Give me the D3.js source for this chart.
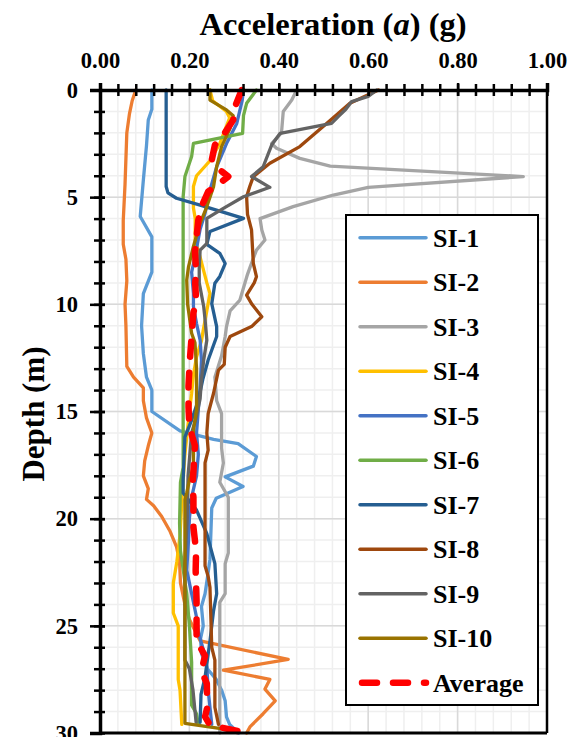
<!DOCTYPE html>
<html>
<head>
<meta charset="utf-8">
<script src="https://cdn.jsdelivr.net/npm/d3@7"></script>
<style>
  html, body { margin: 0; padding: 0; background: #fff; }
  svg text { font-family: "Liberation Serif", "Times New Roman", serif; font-weight: bold; fill: #000; }
</style>
</head>
<body>
<svg id="chart" width="576" height="737"></svg>
<script>
// [depth (m), acceleration (g)]
var si1 = [[0,0.116],[0.9,0.116],[1.4,0.108],[2.6,0.104],[4.2,0.097],[5.9,0.090],[6.85,0.116],[8.5,0.116],[9.5,0.097],[11,0.093],[12.3,0.097],[13.4,0.104],[14,0.116],[15,0.116],[15.9,0.179],[16.3,0.254],[16.5,0.309],[17.1,0.35],[17.55,0.343],[18.05,0.28],[18.5,0.32],[19.05,0.26],[19.5,0.25],[21.9,0.246],[22.8,0.24],[23.5,0.235],[24.1,0.227],[25,0.231],[25.6,0.225],[26.3,0.227],[27,0.24],[27.5,0.26],[28,0.272],[28.5,0.28],[29.25,0.283],[29.6,0.29],[30,0.31]];
var si2 = [[0,0.08],[0.5,0.072],[1.1,0.066],[2,0.06],[4.4,0.056],[6.1,0.052],[7.2,0.052],[7.9,0.058],[8.9,0.06],[10,0.056],[11,0.058],[12.9,0.06],[13.4,0.075],[13.9,0.097],[14.5,0.097],[15.3,0.104],[16,0.116],[16.6,0.108],[17.3,0.1],[18,0.097],[18.6,0.108],[19.1,0.104],[19.4,0.12],[19.9,0.138],[20.6,0.157],[21.3,0.171],[22,0.178],[23,0.18],[24,0.19],[24.7,0.2],[25.7,0.224],[26.57,0.421],[27.07,0.276],[27.5,0.38],[27.95,0.369],[28.5,0.392],[29.1,0.365],[29.7,0.336],[30,0.328]];
var si3 = [[0,0.44],[0.47,0.429],[1,0.41],[2,0.406],[2.5,0.384],[2.72,0.395],[3.19,0.447],[3.55,0.515],[4.04,0.947],[4.54,0.6],[4.9,0.522],[5.44,0.432],[6,0.358],[6.53,0.362],[7,0.369],[7.47,0.35],[8.25,0.336],[8.6,0.33],[9.8,0.313],[10.3,0.291],[11.04,0.283],[11.5,0.28],[12.4,0.272],[13.4,0.257],[14.5,0.261],[15.1,0.272],[16.7,0.272],[17.4,0.276],[18.3,0.268],[19,0.287],[21.6,0.287],[22.1,0.28],[23.5,0.28],[23.9,0.268],[30,0.268]];
var si4 = [[0,0.246],[0.5,0.252],[1,0.283],[1.3,0.29],[2.5,0.268],[3.3,0.246],[4,0.216],[4.5,0.209],[5.5,0.209],[6,0.213],[7,0.213],[7.8,0.224],[9,0.239],[9.5,0.246],[10.3,0.239],[11.2,0.231],[11.7,0.227],[12.45,0.216],[13.3,0.209],[14.15,0.205],[15,0.2],[16,0.195],[17,0.19],[18.8,0.184],[20.8,0.179],[22,0.172],[23,0.164],[24.4,0.164],[25,0.175],[27.5,0.175],[28,0.179],[29.6,0.183]];
var si5 = [[0,0.321],[0.5,0.318],[1.56,0.306],[2.5,0.283],[3.58,0.261],[4.67,0.246],[5.75,0.235],[6.5,0.224],[7.78,0.2125],[8.5,0.205],[9.5,0.209],[10.1,0.209],[10.9,0.216],[11.67,0.224],[12.6,0.227],[13.8,0.224],[14.9,0.22],[16,0.216],[17,0.22],[18,0.216],[19,0.205],[20,0.2],[21,0.198],[22.4,0.194],[23.5,0.205],[24.6,0.216],[25.3,0.22],[26.1,0.231],[26.9,0.239],[28,0.242],[29.6,0.25]];
var si6 = [[0,0.35],[0.62,0.328],[1.2,0.321],[2.02,0.319],[2.49,0.209],[3.1,0.205],[4.04,0.19],[4.98,0.186],[7.3,0.186],[10,0.186],[14,0.186],[17.6,0.186],[18.3,0.18],[20.2,0.178],[21.5,0.18],[23.5,0.194],[25,0.2],[26.7,0.205],[28.7,0.205],[29.1,0.216],[29.6,0.22]];
var si7 = [[0,0.148],[4.5,0.148],[4.8,0.152],[5.05,0.171],[5.37,0.224],[5.99,0.321],[6.6,0.246],[7.2,0.239],[7.62,0.268],[8.1,0.28],[8.7,0.268],[9.02,0.257],[9.97,0.25],[11.04,0.261],[11.5,0.261],[12.6,0.242],[13.5,0.23],[14.47,0.22],[15.4,0.205],[16.2,0.19],[18.2,0.186],[18.8,0.186],[19.6,0.216],[20.7,0.239],[22.1,0.257],[23.5,0.261],[24.3,0.254],[25.7,0.246],[27.4,0.235],[28.2,0.226],[29.5,0.224]];
var si8 = [[0,0.623],[0.62,0.559],[1.56,0.507],[2.64,0.447],[3.42,0.38],[4.04,0.343],[4.5,0.335],[4.98,0.328],[5.8,0.33],[6.53,0.339],[8.09,0.343],[8.71,0.35],[9,0.345],[9.57,0.328],[10,0.34],[10.58,0.362],[11.04,0.339],[11.5,0.291],[12,0.28],[12.8,0.278],[13.07,0.265],[14.15,0.254],[15.1,0.242],[16,0.239],[16.8,0.242],[17.4,0.235],[17.9,0.235],[22.2,0.235],[22.7,0.242],[23.2,0.246],[26,0.25],[26.6,0.257],[28.8,0.257],[29.6,0.265]];
var si9 = [[0,0.619],[0.3,0.6],[0.54,0.563],[0.9,0.55],[1.24,0.533],[1.56,0.518],[2.02,0.403],[2.57,0.384],[3.58,0.365],[4.04,0.339],[4.54,0.38],[4.98,0.321],[5.52,0.276],[5.99,0.239],[6.6,0.239],[7.16,0.239],[7.47,0.224],[8.3,0.222],[9,0.222],[10.1,0.232],[10.7,0.235],[11.67,0.239],[12.6,0.232],[13.5,0.227],[14.4,0.224],[15.3,0.215],[16,0.205],[18,0.197],[20,0.195],[22,0.19],[24,0.19],[26.6,0.19],[27,0.2],[28,0.208],[29.5,0.215]];
var si10 = [[0,0.246],[0.47,0.246],[0.93,0.283],[1.2,0.298],[1.79,0.291],[2.64,0.272],[3.58,0.261],[4.51,0.254],[5.44,0.239],[6.22,0.224],[7.3,0.209],[8.25,0.198],[8.87,0.194],[10,0.196],[11.35,0.205],[11.8,0.2125],[13,0.216],[14.9,0.216],[15.87,0.209],[17.6,0.209],[18.2,0.2],[18.8,0.194],[19.1,0.19],[22,0.19],[25,0.19],[29.55,0.19],[29.85,0.29]];
var average = [[0,0.317],[0.78,0.302],[1.4,0.298],[2.1,0.276],[2.57,0.257],[3.27,0.25],[3.73,0.268],[4.04,0.287],[4.28,0.272],[4.74,0.242],[5.44,0.227],[6.07,0.22],[6.85,0.216],[7.54,0.2125],[8.5,0.215],[9,0.213],[9.8,0.215],[10.4,0.209],[11.5,0.205],[12.6,0.201],[13.8,0.198],[14.8,0.198],[15.7,0.2],[16.6,0.2125],[17.8,0.209],[18.5,0.207],[19,0.209],[20.4,0.209],[21.5,0.215],[22.4,0.214],[23.8,0.216],[25.7,0.216],[26.4,0.235],[27.1,0.227],[27.7,0.239],[28.8,0.24],[29.24,0.235],[29.63,0.246],[30,0.328]];

var seriesNames = ['SI-1','SI-2','SI-3','SI-4','SI-5','SI-6','SI-7','SI-8','SI-9','SI-10','Average'];
var seriesData = [si1, si2, si3, si4, si5, si6, si7, si8, si9, si10, average];
var seriesColors = ['#5B9BD5','#ED7D31','#A5A5A5','#FFC000','#4472C4','#70AD47','#255E91','#9E480E','#636363','#997300','#FF0000'];

var xMajor = [0, 0.2, 0.4, 0.6, 0.8, 1.0];
var yMajor = [0, 5, 10, 15, 20, 25, 30];

var svg = d3.select('#chart');
var x = d3.scaleLinear().domain([0, 1]).range([100, 547]);
var y = d3.scaleLinear().domain([0, 30]).range([90, 733]);

var xMinor = d3.range(0, 25).map(function(i) { return i * 0.04; });
var yMinor = d3.range(0, 30);

// grid
var grid = svg.append('g');
grid.selectAll('line.vmin').data(xMinor).enter().append('line')
  .attr('x1', function(d) { return x(d); }).attr('x2', function(d) { return x(d); })
  .attr('y1', y(0)).attr('y2', y(30))
  .attr('stroke', '#efefef').attr('stroke-width', 1.5);
grid.selectAll('line.hmin').data(yMinor).enter().append('line')
  .attr('y1', function(d) { return y(d); }).attr('y2', function(d) { return y(d); })
  .attr('x1', x(0)).attr('x2', x(1))
  .attr('stroke', '#efefef').attr('stroke-width', 1.5);
grid.selectAll('line.vmaj').data(xMajor).enter().append('line')
  .attr('x1', function(d) { return x(d); }).attr('x2', function(d) { return x(d); })
  .attr('y1', y(0)).attr('y2', y(30))
  .attr('stroke', '#d9d9d9').attr('stroke-width', 1.5);
grid.selectAll('line.hmaj').data(yMajor).enter().append('line')
  .attr('y1', function(d) { return y(d); }).attr('y2', function(d) { return y(d); })
  .attr('x1', x(0)).attr('x2', x(1))
  .attr('stroke', '#d9d9d9').attr('stroke-width', 1.5);

// series
var line = d3.line()
  .x(function(d) { return x(d[1]); })
  .y(function(d) { return y(d[0]); });

seriesData.forEach(function(data, i) {
  var isAvg = seriesNames[i] === 'Average';
  svg.append('path')
    .datum(data)
    .attr('d', line)
    .attr('fill', 'none')
    .attr('stroke', seriesColors[i])
    .attr('stroke-width', isAvg ? 6.5 : 3.3)
    .attr('stroke-linejoin', 'round')
    .attr('stroke-linecap', 'round')
    .attr('stroke-dasharray', isAvg ? '15 16' : null);
});

// frame
svg.append('line').attr('x1', x(1)).attr('x2', x(1)).attr('y1', y(0)).attr('y2', y(30))
  .attr('stroke', '#000').attr('stroke-width', 2.5);
svg.append('line').attr('x1', x(0)).attr('x2', x(1)).attr('y1', y(30)).attr('y2', y(30))
  .attr('stroke', '#000').attr('stroke-width', 3);

// top axis
var gxMinor = svg.append('g').attr('transform', 'translate(0,' + y(0) + ')')
  .call(d3.axisTop(x).tickValues(xMinor).tickSize(6).tickFormat(''));
gxMinor.select('.domain').remove();
gxMinor.selectAll('.tick line').attr('y1', 6).attr('stroke-width', 2.5);

var gx = svg.append('g').attr('transform', 'translate(0,' + y(0) + ')')
  .call(d3.axisTop(x).tickValues(xMajor).tickSize(7).tickPadding(15).tickFormat(d3.format('.2f')));
gx.select('.domain').attr('stroke-width', 3.5);
gx.selectAll('.tick line').attr('y1', 6).attr('stroke-width', 2.5);
gx.selectAll('.tick text').style('font-size', '22.5px');

// left axis
var gyMinor = svg.append('g').attr('transform', 'translate(' + x(0) + ',0)')
  .call(d3.axisLeft(y).tickValues(yMinor).tickSize(6).tickFormat(''));
gyMinor.select('.domain').remove();
gyMinor.selectAll('.tick line').attr('x1', 5).attr('stroke-width', 2.5);

var gy = svg.append('g').attr('transform', 'translate(' + x(0) + ',0)')
  .call(d3.axisLeft(y).tickValues(yMajor).tickSize(10).tickPadding(12));
gy.select('.domain').attr('stroke-width', 3.5);
gy.selectAll('.tick line').attr('x1', 5).attr('stroke-width', 2.5);
gy.selectAll('.tick text').style('font-size', '22.5px');

// titles
var title = svg.append('text')
  .attr('x', 333).attr('y', 35)
  .attr('text-anchor', 'middle')
  .style('font-size', '32.5px');
title.append('tspan').text('Acceleration (');
title.append('tspan').style('font-style', 'italic').text('a');
title.append('tspan').text(') (g)');

svg.append('text')
  .attr('transform', 'translate(44,414) rotate(-90)')
  .attr('text-anchor', 'middle')
  .style('font-size', '31px')
  .text('Depth (m)');

// legend
var legend = svg.append('g');
legend.append('rect')
  .attr('x', 346).attr('y', 215).attr('width', 192).attr('height', 490)
  .attr('fill', '#fff').attr('stroke', '#000').attr('stroke-width', 2);

var ly = d3.scalePoint().domain(seriesNames).range([237.7, 682.7]);
var items = legend.selectAll('g.item').data(seriesNames).enter().append('g')
  .attr('transform', function(d) { return 'translate(0,' + ly(d) + ')'; });
items.append('line')
  .attr('x1', function(d) { return d === 'Average' ? 362 : 360; })
  .attr('x2', 426)
  .attr('stroke', function(d, i) { return seriesColors[i]; })
  .attr('stroke-width', function(d) { return d === 'Average' ? 6.5 : 3.5; })
  .attr('stroke-linecap', 'round')
  .attr('stroke-dasharray', function(d) { return d === 'Average' ? '15 16' : null; });
items.append('text')
  .attr('x', 433).attr('dy', '0.34em')
  .style('font-size', '26px')
  .text(function(d) { return d; });
</script>
</body>
</html>
